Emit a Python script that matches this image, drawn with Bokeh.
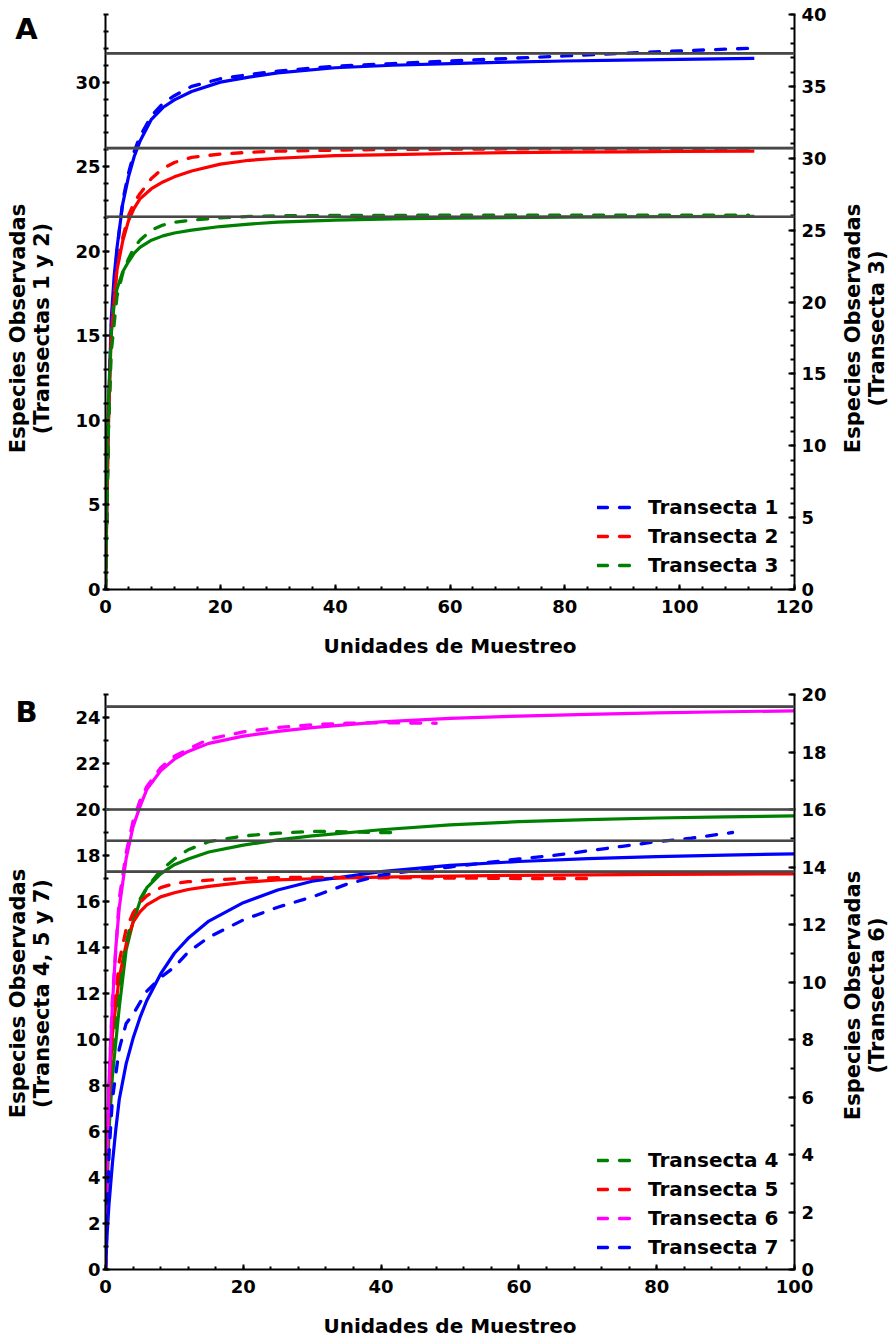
import math
from bokeh.plotting import figure
from bokeh.models import (Range1d, LinearAxis, SingleIntervalTicker, Span,
                          Legend, LegendItem, Label)
from bokeh.layouts import column
from bokeh.embed import file_html
from bokeh.resources import INLINE

FONT = "DejaVu Sans"

# ---------------- Panel A data ----------------
xa_fit = [0, 0.25, 0.5, 1, 1.5, 2, 3, 4, 5, 6, 8, 10, 12, 15, 20, 25, 30, 40, 50, 60, 70, 80, 90, 100, 113]
t1_fit = [0, 5.5, 10, 16, 18.5, 20.2, 22.8, 24.4, 25.6, 26.5, 27.8, 28.5, 28.95, 29.45, 30.0, 30.3, 30.55, 30.85, 31.0, 31.1, 31.18, 31.25, 31.3, 31.35, 31.4]
t2_fit = [0, 5, 9.5, 15.2, 17.4, 18.9, 20.6, 21.8, 22.55, 23.1, 23.7, 24.1, 24.4, 24.75, 25.15, 25.38, 25.5, 25.65, 25.72, 25.78, 25.83, 25.86, 25.88, 25.9, 25.92]
t3_fit = [0, 9, 13, 17.8, 19.8, 20.9, 22.1, 22.8, 23.4, 23.8, 24.3, 24.6, 24.8, 25.0, 25.25, 25.42, 25.55, 25.7, 25.78, 25.83, 25.87, 25.9, 25.92, 25.94, 25.95]

xa_obs = [0, 0.5, 1, 2, 3, 4, 5, 6, 8, 10, 12, 15, 20, 25, 30, 40, 50, 60, 70, 80, 90, 100, 112]
t1_obs = [0, 9.5, 15.5, 20.0, 23.0, 24.6, 25.9, 26.8, 28.0, 28.75, 29.2, 29.75, 30.2, 30.45, 30.65, 30.95, 31.1, 31.25, 31.4, 31.55, 31.7, 31.85, 32.0]
t2_obs = [0, 9.5, 15.0, 19.0, 20.8, 22.1, 22.9, 23.4, 24.3, 24.9, 25.25, 25.55, 25.75, 25.85, 25.92, 25.98, 26.02, 26.04, 26.05, 26.05, 26.06, 26.06, 26.07]
t3_obs = [0, 11, 16.5, 20.4, 22.0, 23.0, 23.8, 24.3, 25.0, 25.35, 25.55, 25.7, 25.85, 25.95, 26.0, 26.02, 26.03, 26.04, 26.05, 26.05, 26.05, 26.05, 26.05]

asym_a_left = [31.7, 26.1]
asym_a_right = [25.93]

# ---------------- Panel B data ----------------
xb_fit = [0, 0.25, 0.5, 1, 1.5, 2, 3, 4, 5, 6, 8, 10, 12, 15, 20, 25, 30, 40, 50, 60, 70, 80, 90, 100]
t4_fit = [0, 3.5, 6.0, 8.4, 9.9, 11.4, 13.9, 15.1, 16.0, 16.6, 17.2, 17.6, 17.85, 18.15, 18.45, 18.68, 18.85, 19.12, 19.33, 19.47, 19.56, 19.63, 19.68, 19.72]
t5_fit = [0, 5, 7.5, 10.2, 11.5, 12.7, 14.15, 15.1, 15.55, 15.85, 16.2, 16.38, 16.52, 16.66, 16.83, 16.94, 16.99, 17.06, 17.1, 17.14, 17.16, 17.18, 17.19, 17.2]
t6_fit = [0, 4, 6.5, 9.2, 11.2, 12.6, 14.3, 15.4, 16.1, 16.7, 17.35, 17.75, 18.02, 18.3, 18.55, 18.72, 18.85, 19.05, 19.17, 19.25, 19.31, 19.36, 19.4, 19.43]
t7_fit = [0, 1.6, 2.8, 4.6, 6.1, 7.4, 8.95, 10.05, 10.95, 11.7, 12.85, 13.75, 14.4, 15.15, 15.95, 16.5, 16.88, 17.3, 17.57, 17.74, 17.86, 17.95, 18.02, 18.07]

x4_obs = [0, 0.5, 1, 1.5, 2, 3, 4, 5, 6, 8, 10, 12, 15, 20, 25, 30, 35, 40, 42]
t4_obs = [0, 5.5, 8.5, 10.5, 12.0, 14.2, 15.4, 16.1, 16.6, 17.35, 17.85, 18.25, 18.6, 18.85, 18.97, 19.05, 19.03, 19.0, 19.0]
x5_obs = [0, 0.5, 1, 2, 3, 4, 5, 6, 8, 10, 12, 15, 20, 25, 30, 40, 50, 60, 70]
t5_obs = [0, 7.5, 10.5, 13.4, 14.8, 15.5, 15.95, 16.25, 16.6, 16.78, 16.86, 16.93, 17.0, 17.04, 17.05, 17.03, 17.02, 17.0, 17.0]
x6_obs = [0, 0.5, 1, 2, 3, 4, 5, 6, 8, 10, 12, 15, 20, 25, 30, 35, 40, 48]
t6_obs = [0, 6.5, 9.4, 12.9, 14.5, 15.6, 16.3, 16.8, 17.45, 17.85, 18.1, 18.45, 18.7, 18.85, 18.95, 19.0, 19.02, 19.0]
x7_obs = [0, 0.5, 1, 2, 3, 4, 5, 6, 8, 10, 12, 15, 20, 25, 30, 35, 40, 45, 50, 55, 60, 65, 70, 75, 80, 85, 91]
t7_obs = [0, 5.0, 7.4, 9.6, 10.7, 11.1, 11.6, 12.1, 12.7, 13.15, 13.8, 14.45, 15.2, 15.75, 16.2, 16.75, 17.15, 17.35, 17.5, 17.68, 17.85, 18.0, 18.2, 18.4, 18.6, 18.75, 19.0]

asym_b_left = [20.0, 18.64, 17.3]
asym_b_right = [19.58]

series_a = [
    ("Transecta 1", "#0000FF", xa_obs, t1_obs, xa_fit, t1_fit, "left"),
    ("Transecta 2", "#FF0000", xa_obs, t2_obs, xa_fit, t2_fit, "left"),
    ("Transecta 3", "#008000", xa_obs, t3_obs, xa_fit, t3_fit, "right"),
]
series_b = [
    ("Transecta 4", "#008000", x4_obs, t4_obs, xb_fit, t4_fit, "left"),
    ("Transecta 5", "#FF0000", x5_obs, t5_obs, xb_fit, t5_fit, "left"),
    ("Transecta 6", "#FF00FF", x6_obs, t6_obs, xb_fit, t6_fit, "right"),
    ("Transecta 7", "#0000FF", x7_obs, t7_obs, xb_fit, t7_fit, "left"),
]


def style_axis(ax, side):
    ax.axis_line_width = 2
    ax.axis_line_color = "black"
    ax.major_tick_line_width = 2
    ax.minor_tick_line_width = 2
    ax.major_tick_line_color = "black"
    ax.minor_tick_line_color = "black"
    ax.major_label_text_font = FONT
    ax.major_label_text_font_style = "bold"
    ax.major_label_text_font_size = "18px"
    ax.major_label_text_color = "black"
    ax.axis_label_text_font = FONT
    ax.axis_label_text_font_style = "bold"
    ax.axis_label_text_font_size = "20px"
    ax.axis_label_text_color = "black"
    if side == "below":
        ax.major_tick_in = 5
        ax.major_tick_out = 0
        ax.minor_tick_in = 3
        ax.minor_tick_out = 0
        ax.major_label_standoff = 10
        ax.axis_label_standoff = 18
    elif side == "left":
        ax.major_tick_in = 4
        ax.major_tick_out = 3
        ax.minor_tick_in = 3
        ax.minor_tick_out = 2
        ax.major_label_standoff = 2
    else:
        ax.major_tick_in = 6
        ax.major_tick_out = 1
        ax.minor_tick_in = 4
        ax.minor_tick_out = 0
        ax.major_label_standoff = 6


def side_label(text, x, y, size, angle=0.0):
    return Label(x=x, y=y, x_units="canvas", y_units="canvas", text=text,
                 angle=angle, text_font=FONT, text_font_style="bold",
                 text_font_size=size, text_color="black",
                 text_align="center", text_baseline="middle", text_line_height=0.97)


def make_panel(letter, letter_y, xmax, ymax_l, int_l, ymax_r, int_r, ylab_l, ylab_r,
               lab_yl, lab_yr, series, asym_l, asym_r, height, b_top, b_bottom, leg_y):
    p = figure(width=896, height=height, output_backend="svg", toolbar_location=None,
               x_range=Range1d(0, xmax), y_range=Range1d(0, ymax_l),
               min_border_left=105, min_border_right=102,
               min_border_top=b_top, min_border_bottom=b_bottom,
               x_axis_location=None, y_axis_location=None)
    p.outline_line_color = None
    p.grid.visible = False
    p.extra_y_ranges = {"r": Range1d(0, ymax_r)}

    xax = LinearAxis(ticker=SingleIntervalTicker(interval=20, num_minor_ticks=5),
                     axis_label="Unidades de Muestreo")
    style_axis(xax, "below")
    p.add_layout(xax, "below")

    nm_l = 5 if int_l == 5 else 2
    yl = LinearAxis(ticker=SingleIntervalTicker(interval=int_l, num_minor_ticks=nm_l))
    style_axis(yl, "left")
    p.add_layout(yl, "left")

    nm_r = 5 if int_r == 5 else 2
    yr = LinearAxis(y_range_name="r",
                    ticker=SingleIntervalTicker(interval=int_r, num_minor_ticks=nm_r))
    style_axis(yr, "right")
    p.add_layout(yr, "right")

    # side texts: panel letter and the two vertical axis titles
    p.add_layout(side_label(ylab_l, 29.5, lab_yl, "21px", math.pi / 2), "left")
    p.add_layout(side_label(letter, 26, letter_y, "29px"), "left")
    p.add_layout(side_label(ylab_r, 864.5, lab_yr, "21px", math.pi / 2), "right")

    items = []
    for name, color, xo, yo, xf, yf, side in series:
        rng = "r" if side == "right" else "default"
        p.line(xf, yf, line_color=color, line_width=3.2, y_range_name=rng)
    for name, color, xo, yo, xf, yf, side in series:
        rng = "r" if side == "right" else "default"
        r = p.line(xo, yo, line_color=color, line_width=3.3, line_dash="10 12",
                   line_cap="round", y_range_name=rng)
        items.append(LegendItem(label=name, renderers=[r]))

    for v in asym_l:
        p.add_layout(Span(location=v, dimension="width", line_color="#909090", line_width=2.6))
        p.add_layout(Span(location=v, dimension="width", line_color="black", line_width=2.6,
                          line_dash="1 1"))
    for v in asym_r:
        p.add_layout(Span(location=v, dimension="width", y_range_name="r",
                          line_color="#909090", line_width=2.6))
        p.add_layout(Span(location=v, dimension="width", y_range_name="r",
                          line_color="black", line_width=2.6, line_dash="1 1"))

    leg = Legend(items=items, location=(486, leg_y), border_line_alpha=0,
                 background_fill_alpha=0, label_text_font=FONT,
                 label_text_font_style="bold", label_text_font_size="20px",
                 label_text_color="black",
                 glyph_width=36, glyph_height=20, label_standoff=15,
                 spacing=5, padding=6, margin=0, label_height=22)
    p.add_layout(leg)
    return p


pa = make_panel("A", 28.5, 120, 34, 5, 40, 5,
                "Especies Observadas\n(Transectas 1 y 2)",
                "Especies Observadas\n(Transecta 3)", 328, 328,
                series_a, asym_a_left, asym_a_right, 672, 14, 83, 6)
pb = make_panel("B", 39, 100, 25, 2, 20, 2,
                "Especies Observadas\n(Transecta 4, 5 y 7)",
                "Especies Observadas\n(Transecta 6)", 321, 323,
                series_b, asym_b_left, asym_b_right, 669, 22, 72, 4)

layout = column(pa, pb, spacing=0)
open("out.html", "w").write(file_html(layout, INLINE))
